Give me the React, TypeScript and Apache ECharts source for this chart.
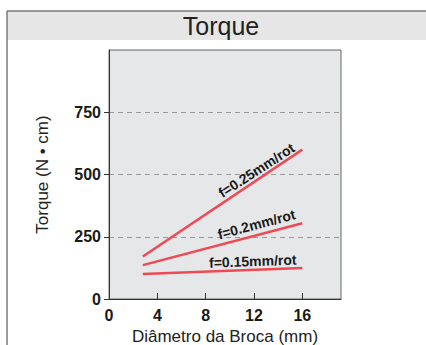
import React, { useEffect, useRef } from "react";
import * as echarts from "echarts";

const xTicks = [0, 4, 8, 12, 16];
const yTicks = [0, 250, 500, 750];
const diameters = [2.8, 16];
const torque025 = [171, 600];
const torque020 = [136, 304];
const torque015 = [100, 124];
const seriesNames = ["f=0.25mm/rot", "f=0.2mm/rot", "f=0.15mm/rot"];
const labelAnchors: [number, number][] = [
  [12.2, 517],
  [12.2, 300],
  [11.9, 152],
];
const labelAngles = [33, 15, 2];

const RED = "#ee4a55";

export default function App() {
  const ref = useRef<HTMLDivElement>(null);
  useEffect(() => {
    if (!ref.current) return;
    const chart = echarts.init(ref.current, null, { renderer: "svg" });
    const seriesData = [torque025, torque020, torque015];
    chart.setOption({
      animation: false,
      textStyle: { fontFamily: "Liberation Sans, Arial, sans-serif" },
      graphic: [
        {
          type: "rect",
          shape: { x: 7, y: 11, width: 430, height: 29 },
          style: { fill: "#e6e6e7" },
          z: -10,
        },
        {
          type: "line",
          shape: { x1: 7, y1: 11, x2: 430, y2: 11 },
          style: { stroke: "#7a7a7a", lineWidth: 1.5 },
        },
        {
          type: "line",
          shape: { x1: 7, y1: 11, x2: 7, y2: 350 },
          style: { stroke: "#7a7a7a", lineWidth: 1.5 },
        },
        {
          type: "text",
          x: 221,
          y: 26,
          style: {
            text: "Torque",
            fill: "#222",
            font: "25px Liberation Sans, Arial, sans-serif",
            textAlign: "center",
            textVerticalAlign: "middle",
          },
        },
      ],
      grid: {
        left: 109,
        right: 85,
        top: 50,
        bottom: 46,
        outerBoundsMode: "none",
        containLabel: false,
        show: true,
        backgroundColor: "#e6e7e8",
        borderColor: "#666",
        borderWidth: 1,
      },
      xAxis: {
        type: "value",
        min: 0,
        max: 19.2,
        interval: 4,
        name: "Diâmetro da Broca (mm)",
        nameLocation: "middle",
        nameGap: 29,
        nameTextStyle: { fontSize: 17, color: "#222" },
        axisLine: { show: true, lineStyle: { color: "#333", width: 1 } },
        axisTick: {
          show: true,
          inside: true,
          length: 6,
          customValues: [4, 8, 12, 16],
          lineStyle: { color: "#333" },
        },
        axisLabel: {
          customValues: xTicks,
          fontSize: 16,
          fontWeight: "bold",
          color: "#1a1a1a",
          margin: 8,
        },
        splitLine: { show: false },
      },
      yAxis: {
        type: "value",
        min: 0,
        max: 1000,
        interval: 250,
        name: "Torque (N • cm)",
        nameLocation: "middle",
        nameGap: 58,
        nameTextStyle: { fontSize: 17, color: "#222" },
        axisLine: { show: true, lineStyle: { color: "#333", width: 1 } },
        axisTick: {
          show: true,
          length: 5,
          customValues: yTicks,
          lineStyle: { color: "#333" },
        },
        axisLabel: {
          customValues: yTicks,
          fontSize: 16,
          fontWeight: "bold",
          color: "#1a1a1a",
          margin: 8,
        },
        splitLine: {
          show: true,
          lineStyle: { color: "#999", type: [5, 4], width: 1 },
        },
      },
      series: seriesData.map((vals, i) => ({
        type: "line",
        name: seriesNames[i],
        data: diameters.map((d, j) => [d, vals[j]]),
        showSymbol: false,
        symbol: "none",
        lineStyle: { color: RED, width: 2.5 },
        markPoint: {
          symbol: "circle",
          symbolSize: 0,
          data: [{ coord: labelAnchors[i], value: seriesNames[i] }],
          label: {
            show: true,
            position: "inside",
            formatter: seriesNames[i],
            rotate: labelAngles[i],
            fontSize: 14,
            fontWeight: "bold",
            color: "#1a1a1a",
          },
        },
      })),
    });
    return () => chart.dispose();
  }, []);
  return (
    <div
      ref={ref}
      style={{ position: "fixed", left: 0, top: 0, width: 426, height: 345, background: "#fff" }}
    />
  );
}
